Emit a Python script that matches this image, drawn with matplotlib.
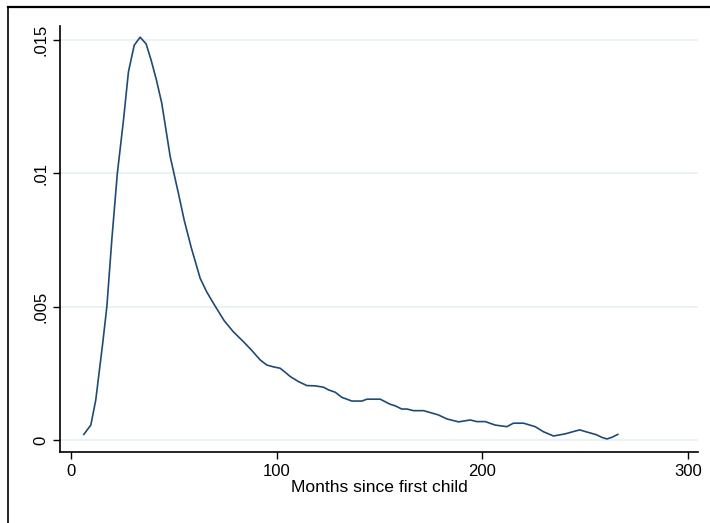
import matplotlib
matplotlib.use("Agg")
import matplotlib.pyplot as plt
from matplotlib.lines import Line2D

# kernel density estimate
months = [6.2, 9.6, 12.0, 15.4, 17.4, 19.8, 22.5, 25.5, 27.9, 30.7, 33.6, 36.5,
          38.9, 41.5, 44.1, 48.2, 52.2, 55.0, 58.5, 62.8, 66.0, 69.2, 74.5,
          79.0, 83.8, 88.0, 92.0, 95.2, 98.5, 101.7, 104.0, 106.6, 110.6,
          114.7, 118.7, 122.8, 125.2, 128.5, 131.7, 136.6, 141.5, 143.9,
          150.4, 155.2, 157.7, 160.9, 163.4, 166.6, 171.5, 178.7, 182.8,
          188.5, 194.2, 197.4, 201.5, 206.3, 212.0, 215.2, 220.1, 225.8,
          229.8, 234.7, 240.4, 247.4, 250.9, 255.5, 258.2, 260.7, 263.1, 266.0]
density = [0.00021, 0.00056, 0.0015, 0.00364, 0.0050, 0.0075, 0.0100, 0.0120,
           0.0138, 0.0148, 0.0151, 0.01485, 0.01425, 0.0135, 0.01263, 0.01063,
           0.00925, 0.00825, 0.0072, 0.00606, 0.00555, 0.00513, 0.00447,
           0.00405, 0.00369, 0.00335, 0.0030, 0.00281, 0.00274, 0.00269,
           0.00255, 0.00238, 0.00219, 0.00204, 0.00203, 0.00198, 0.00188,
           0.00179, 0.0016, 0.00146, 0.00146, 0.00153, 0.00153, 0.00134,
           0.00128, 0.00116, 0.00116, 0.0011, 0.0011, 0.00094, 0.00079,
           0.00068, 0.00075, 0.00069, 0.00069, 0.00056, 0.0005, 0.00063,
           0.00063, 0.0005, 0.00031, 0.00015, 0.00023, 0.00038, 0.0003,
           0.0002, 0.0001, 0.00004, 0.0001, 0.00021]

xticks = [0, 100, 200, 300]
yticks = [0, 0.005, 0.01, 0.015]
ytick_labels = ["0", ".005", ".01", ".015"]

plt.rcParams["font.family"] = ["Liberation Sans", "DejaVu Sans"]
plt.rcParams["font.size"] = 12

fig = plt.figure(figsize=(7.10, 5.23), dpi=100)
ax = fig.add_axes([60 / 710, 1 - 452 / 523, 638 / 710, 426 / 523])

ax.plot(months, density, color="#1f4a75", lw=1.2, zorder=3)

ax.set_xlim(-5.4, 305)
ax.set_ylim(-0.00045, 0.01552)
ax.set_xticks(xticks)
ax.set_xticklabels([str(t) for t in xticks])
ax.set_yticks(yticks)
ax.set_yticklabels(ytick_labels, rotation=90, va="center")
ax.grid(axis="y", color="#e8f0f2", lw=1.2)
ax.set_axisbelow(True)
ax.tick_params(length=5, width=1, color="black", pad=3.5)

for side in ["top", "right"]:
    ax.spines[side].set_visible(False)
for side in ["left", "bottom"]:
    ax.spines[side].set_linewidth(1.2)
    ax.spines[side].set_color("black")

ax.set_xlabel("Months since first child", fontsize=12.6, labelpad=1)

# outer graph-region border (cropped at right and bottom)
fig.add_artist(Line2D([8 / 710, 1], [1 - 7 / 523, 1 - 7 / 523],
                      transform=fig.transFigure, color="black", lw=1.6))
fig.add_artist(Line2D([8 / 710, 8 / 710], [0, 1 - 7 / 523],
                      transform=fig.transFigure, color="black", lw=1.2))

fig.savefig("out.png", dpi=100)
